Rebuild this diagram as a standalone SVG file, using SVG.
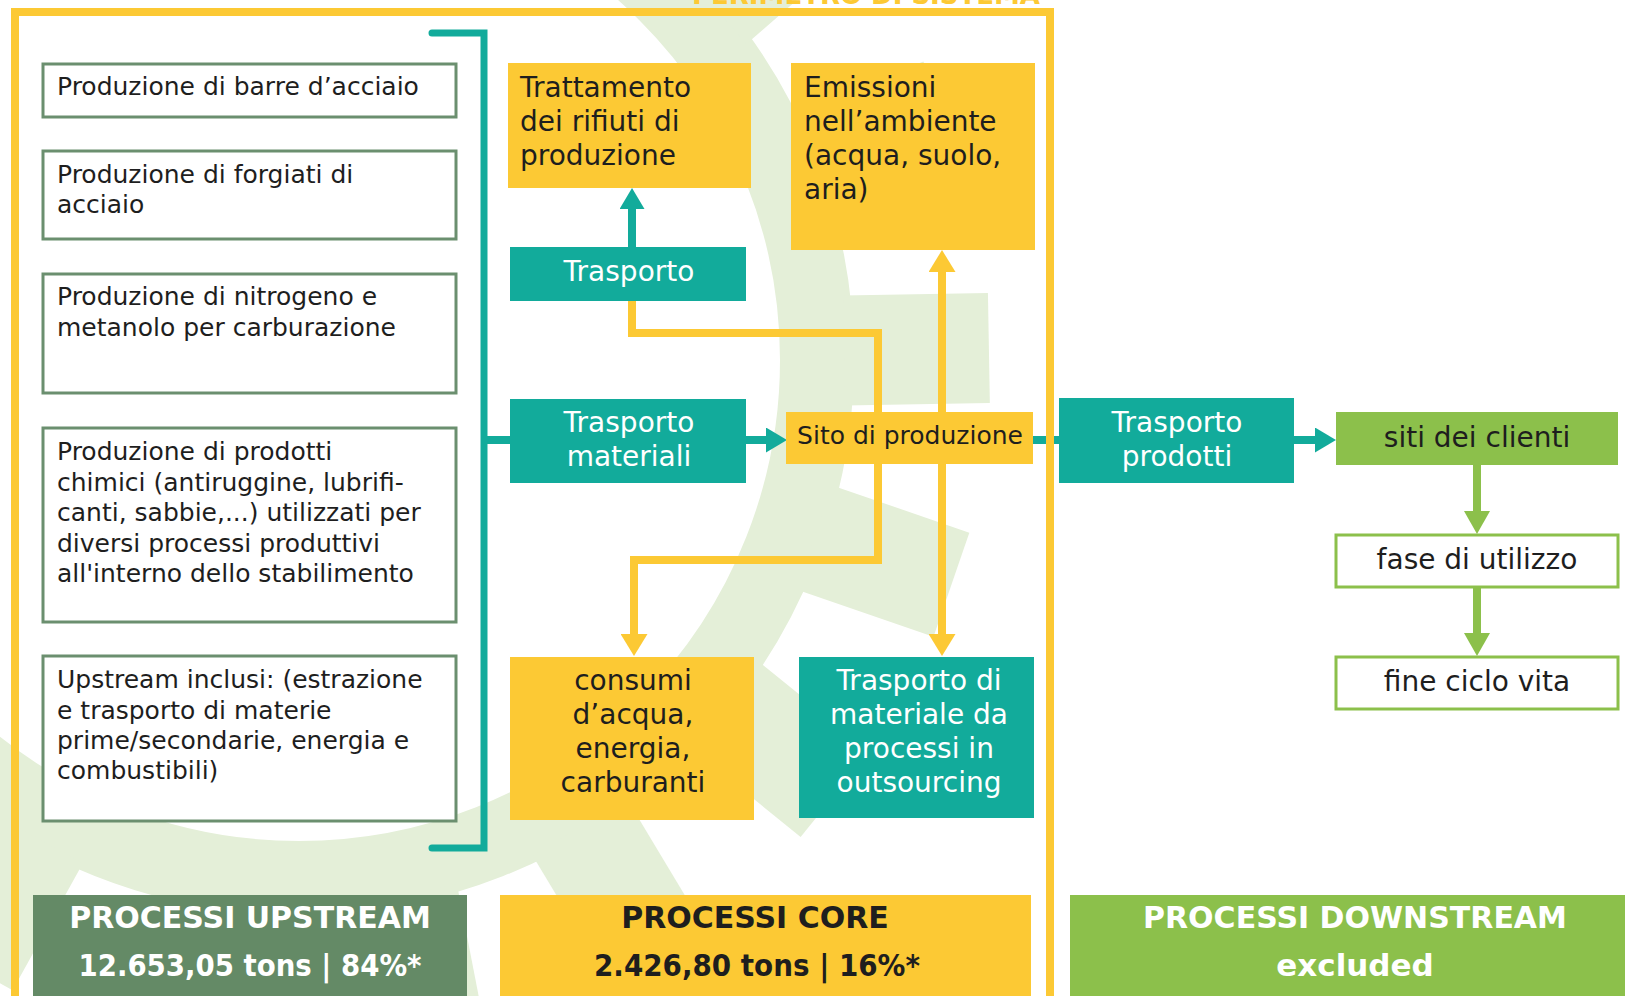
<svg xmlns="http://www.w3.org/2000/svg" width="1625" height="996" viewBox="0 0 1625 996">
<style>
text{font-family:'DejaVu Sans','Liberation Sans',sans-serif}
.up{fill:#fff;stroke:#6b8f6f;stroke-width:3}
.y{fill:#fcc934}
.t{fill:#12ab9b}
.g{fill:#8cc04b}
.gb{fill:#fff;stroke:#8cc04b;stroke-width:3}
.s25{font-size:25px;fill:#1e1e1e}
.s28{font-size:28px}
.s24{font-size:25px}
.w{fill:#fff}
.d{fill:#1e1e1e}
.c{text-anchor:middle}
.h{font-weight:bold;font-size:30px}
.n{font-weight:bold;font-size:31px}
.ct{fill:none;stroke:#12ab9b;stroke-width:8}
.cy{fill:none;stroke:#fcc934;stroke-width:8}
.cg{fill:none;stroke:#8cc04b;stroke-width:8}
.gear{fill:#e4efd8}
</style>
<defs>
<marker id="aT" markerUnits="userSpaceOnUse" viewBox="0 0 21 25" markerWidth="21" markerHeight="25" refX="2" refY="12.5" orient="auto"><path d="M0,0L21,12.5L0,25z" fill="#12ab9b"/></marker>
<marker id="aY" markerUnits="userSpaceOnUse" viewBox="0 0 22 27" markerWidth="22" markerHeight="27" refX="2" refY="13.5" orient="auto"><path d="M0,0L22,13.5L0,27z" fill="#fcc934"/></marker>
<marker id="aG" markerUnits="userSpaceOnUse" viewBox="0 0 23 26" markerWidth="23" markerHeight="26" refX="2" refY="13" orient="auto"><path d="M0,0L23,13L0,26z" fill="#8cc04b"/></marker>
<rect id="tooth" x="545" y="-55" width="145" height="110"/>
</defs>

<g id="background-gear" class="gear">
<circle cx="299" cy="360" r="518" fill="none" stroke="#e4efd8" stroke-width="74"/>
<use href="#tooth" transform="translate(299 360) rotate(-41)"/>
<use href="#tooth" transform="translate(299 360) rotate(-21)"/>
<use href="#tooth" transform="translate(299 360) rotate(-1)"/>
<use href="#tooth" transform="translate(299 360) rotate(19)"/>
<use href="#tooth" transform="translate(299 360) rotate(39)"/>
<use href="#tooth" transform="translate(299 360) rotate(59)"/>
<use href="#tooth" transform="translate(299 360) rotate(79)"/>
<use href="#tooth" transform="translate(299 360) rotate(99)"/>
<use href="#tooth" transform="translate(299 360) rotate(119)"/>
<use href="#tooth" transform="translate(299 360) rotate(139)"/>
<use href="#tooth" transform="translate(299 360) rotate(159)"/>
</g>

<text id="perimeter-title" x="1040" y="4" text-anchor="end" font-weight="bold" font-size="26" fill="#fcc934">PERIMETRO DI SISTEMA</text>

<g id="connectors">
<path d="M432,33H484V848H432" fill="none" stroke="#12ab9b" stroke-width="7" stroke-linecap="round"/>
<path class="ct" d="M484,440H510"/>
<path class="ct" d="M632,247V207" marker-end="url(#aT)"/>
<path class="ct" d="M746,440H768" marker-end="url(#aT)"/>
<path class="ct" d="M1033,440H1059"/>
<path class="ct" d="M1294,440H1317" marker-end="url(#aT)"/>
<path class="cy" d="M632,301V333H878V440"/>
<path class="cy" d="M878,440V560H634V636" marker-end="url(#aY)"/>
<path class="cy" d="M942,440V270" marker-end="url(#aY)"/>
<path class="cy" d="M942,440V636" marker-end="url(#aY)"/>
<path class="cg" d="M1477,465V513" marker-end="url(#aG)"/>
<path class="cg" d="M1477,588V635" marker-end="url(#aG)"/>
</g>

<rect id="system-perimeter" x="15" y="12" width="1035" height="1010" fill="none" stroke="#fcc934" stroke-width="8"/>

<g id="up-barre">
<rect class="up" x="43" y="64" width="413" height="53"/>
<text class="s25" x="57" y="95">Produzione di barre d’acciaio</text>
</g>
<g id="up-forgiati">
<rect class="up" x="43" y="151" width="413" height="88"/>
<text class="s25" x="57" y="183">Produzione di forgiati di</text>
<text class="s25" x="57" y="213">acciaio</text>
</g>
<g id="up-nitrogeno">
<rect class="up" x="43" y="274" width="413" height="119"/>
<text class="s25" x="57" y="305">Produzione di nitrogeno e</text>
<text class="s25" x="57" y="336">metanolo per carburazione</text>
</g>
<g id="up-chimici">
<rect class="up" x="43" y="428" width="413" height="194"/>
<text class="s25" x="57" y="460">Produzione di prodotti</text>
<text class="s25" x="57" y="491">chimici (antiruggine, lubrifi-</text>
<text class="s25" x="57" y="521">canti, sabbie,...) utilizzati per</text>
<text class="s25" x="57" y="552">diversi processi produttivi</text>
<text class="s25" x="57" y="582">all'interno dello stabilimento</text>
</g>
<g id="up-inclusi">
<rect class="up" x="43" y="656" width="413" height="165"/>
<text class="s25" x="57" y="688">Upstream inclusi: (estrazione</text>
<text class="s25" x="57" y="719">e trasporto di materie</text>
<text class="s25" x="57" y="749">prime/secondarie, energia e</text>
<text class="s25" x="57" y="779">combustibili)</text>
</g>

<g id="trattamento">
<rect class="y" x="508" y="63" width="243" height="125"/>
<text class="s28 d" x="520" y="97">Trattamento</text>
<text class="s28 d" x="520" y="131">dei rifiuti di</text>
<text class="s28 d" x="520" y="165">produzione</text>
</g>
<g id="emissioni">
<rect class="y" x="791" y="63" width="244" height="187"/>
<text class="s28 d" x="804" y="97">Emissioni</text>
<text class="s28 d" x="804" y="131">nell’ambiente</text>
<text class="s28 d" x="804" y="165">(acqua, suolo,</text>
<text class="s28 d" x="804" y="199">aria)</text>
</g>
<g id="trasporto">
<rect class="t" x="510" y="247" width="236" height="54"/>
<text class="s28 w c" x="629" y="281">Trasporto</text>
</g>
<g id="trasporto-materiali">
<rect class="t" x="510" y="399" width="236" height="84"/>
<text class="s28 w c" x="629" y="432">Trasporto</text>
<text class="s28 w c" x="629" y="466">materiali</text>
</g>
<g id="sito">
<rect class="y" x="786" y="412" width="247" height="52"/>
<text class="s24 d c" x="910" y="444">Sito di produzione</text>
</g>
<g id="consumi">
<rect class="y" x="510" y="657" width="244" height="163"/>
<text class="s28 d c" x="633" y="690">consumi</text>
<text class="s28 d c" x="633" y="724">d’acqua,</text>
<text class="s28 d c" x="633" y="758">energia,</text>
<text class="s28 d c" x="633" y="792">carburanti</text>
</g>
<g id="trasporto-outsourcing">
<rect class="t" x="799" y="657" width="235" height="161"/>
<text class="s28 w c" x="919" y="690">Trasporto di</text>
<text class="s28 w c" x="919" y="724">materiale da</text>
<text class="s28 w c" x="919" y="758">processi in</text>
<text class="s28 w c" x="919" y="792">outsourcing</text>
</g>
<g id="trasporto-prodotti">
<rect class="t" x="1059" y="398" width="235" height="85"/>
<text class="s28 w c" x="1177" y="432">Trasporto</text>
<text class="s28 w c" x="1177" y="466">prodotti</text>
</g>
<g id="siti-clienti">
<rect class="g" x="1336" y="412" width="282" height="53"/>
<text class="s28 d c" x="1477" y="447">siti dei clienti</text>
</g>
<g id="fase-utilizzo">
<rect class="gb" x="1336" y="535" width="282" height="52"/>
<text class="s28 d c" x="1477" y="569">fase di utilizzo</text>
</g>
<g id="fine-ciclo">
<rect class="gb" x="1336" y="657" width="282" height="52"/>
<text class="s28 d c" x="1477" y="691">fine ciclo vita</text>
</g>

<g id="header-upstream">
<rect x="33" y="895" width="434" height="110" fill="#648a66"/>
<text class="h w c" x="250" y="928">PROCESSI UPSTREAM</text>
<text class="n w c" x="250" y="976" textLength="343" lengthAdjust="spacingAndGlyphs">12.653,05 tons | 84%*</text>
</g>
<g id="header-core">
<rect class="y" x="500" y="895" width="531" height="110"/>
<text class="h d c" x="755" y="928">PROCESSI CORE</text>
<text class="n d c" x="757" y="976" textLength="326" lengthAdjust="spacingAndGlyphs">2.426,80 tons | 16%*</text>
</g>
<g id="header-downstream">
<rect class="g" x="1070" y="895" width="560" height="110"/>
<text class="h w c" x="1355" y="928">PROCESSI DOWNSTREAM</text>
<text class="n w c" x="1355" y="976">excluded</text>
</g>
</svg>
